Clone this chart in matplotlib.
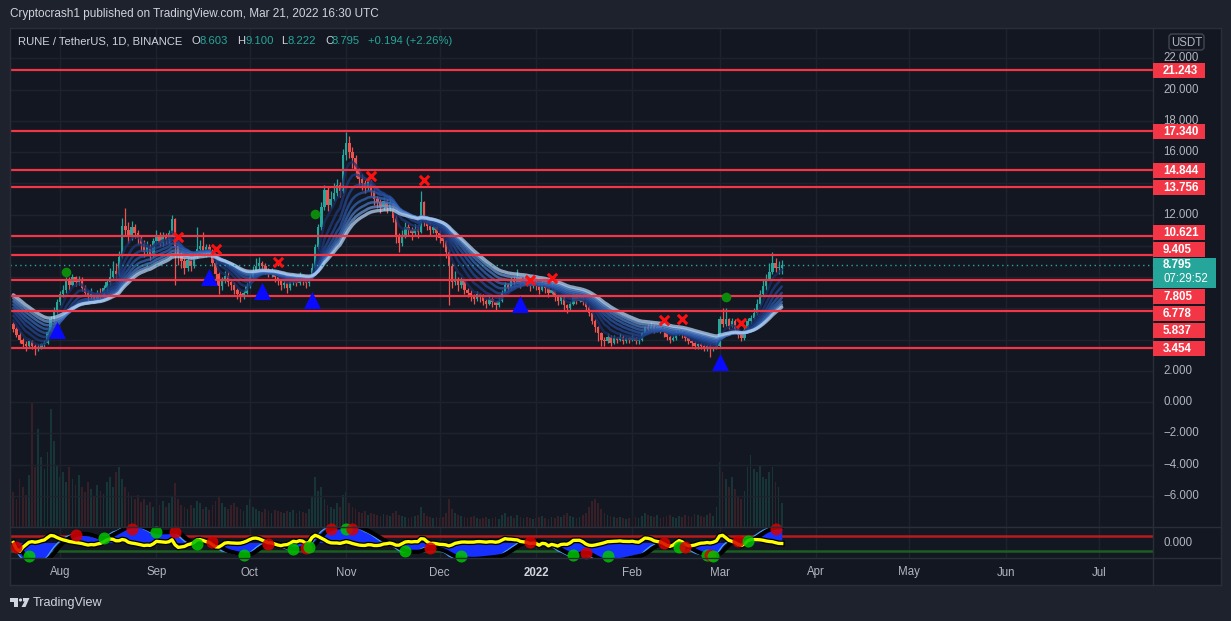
import numpy as np
import pandas as pd
import matplotlib
matplotlib.use("Agg")
import matplotlib.pyplot as plt
import matplotlib.dates as mdates
from matplotlib import transforms
from matplotlib.patches import Rectangle, FancyBboxPatch, Polygon, Circle
from matplotlib.lines import Line2D
from matplotlib.transforms import blended_transform_factory as blend

# ---------------- data ----------------
start_date = "2021-07-17"
first_open = 5.0

close = [
    4.7, 4.3, 4.0, 3.7, 3.6, 3.9, 3.6, 3.5, 3.5, 3.7, 3.8,
    4.5, 5.3, 5.9, 6.4, 6.9, 7.2, 7.8, 7.5, 8.0, 7.7, 7.9,
    7.3, 7.0, 6.7, 6.9, 6.6, 7.0, 6.8, 7.3, 7.7, 8.0, 8.4,
    8.2, 9.3, 11.3, 11.0, 10.6, 11.2, 10.8, 10.5, 10.1, 9.6, 9.9,
    9.4, 10.3, 10.7, 10.2, 10.6, 10.4, 10.8, 11.7, 10.0, 9.4, 9.0,
    8.6, 9.1, 8.7, 9.3, 9.8, 10.0, 9.6, 9.9, 9.7, 8.9, 8.2,
    7.4, 7.8, 8.1, 7.7, 7.5, 7.2, 6.9, 6.7, 7.0, 7.4, 8.0,
    8.4, 8.7, 8.9, 8.7, 8.4, 8.2, 8.3, 8.0, 7.8, 7.5, 7.6,
    7.3, 7.7, 7.9, 7.6, 8.0, 7.8, 7.6, 7.9, 8.6, 9.9, 11.2,
    12.5, 13.6, 12.6, 13.0, 13.4, 13.9, 13.5, 15.8, 16.6, 16.0, 15.6,
    14.8, 14.3, 14.0, 13.8, 14.1, 13.5, 13.0, 12.8, 12.5, 12.9, 12.4,
    12.7, 11.8, 10.6, 10.2, 10.7, 11.2, 11.0, 10.8, 11.1, 10.9, 12.8,
    11.6, 11.3, 11.0, 11.2, 10.8, 10.5, 10.3, 9.6, 8.7, 7.7, 7.9,
    7.5, 7.8, 7.2, 7.0, 6.8, 6.6, 6.9, 6.7, 6.5, 6.3, 6.6,
    6.4, 6.2, 6.5, 7.0, 7.5, 7.3, 7.8, 7.7, 8.0, 7.6, 7.9,
    7.7, 7.4, 7.7, 7.5, 7.2, 7.6, 7.3, 7.0, 7.2, 6.8, 6.5,
    6.7, 6.2, 6.0, 6.3, 6.8, 6.5, 6.7, 6.4, 6.1, 5.7, 5.2,
    4.8, 4.4, 4.0, 3.9, 4.2, 3.8, 4.1, 4.0, 4.2, 3.9, 4.1,
    4.0, 4.1, 3.9, 4.0, 4.4, 4.8, 4.7, 4.9, 4.6, 4.8, 4.7,
    4.5, 4.2, 4.0, 4.1, 4.4, 4.5, 4.3, 4.1, 3.9, 3.8, 3.6,
    3.7, 3.6, 3.5, 3.6, 3.4, 3.5, 3.6, 5.3, 5.0, 5.3, 4.9,
    5.2, 4.7, 4.3, 4.1, 4.6, 5.2, 5.4, 5.7, 6.3, 6.9, 7.4,
    7.9, 8.3, 8.9, 8.6, 8.603, 8.795,
]

high = [
    5.1, 4.8, 4.5, 4.1, 3.9, 4.0, 4.0, 3.7, 3.7, 3.8, 4.0,
    4.6, 5.5, 6.1, 6.6, 7.1, 7.5, 8.0, 8.0, 8.2, 8.1, 8.1,
    8.0, 7.5, 7.2, 7.3, 7.0, 7.2, 7.3, 7.5, 7.9, 8.6, 9.0,
    8.9, 9.7, 11.8, 12.4, 11.5, 11.6, 11.4, 11.0, 10.7, 10.4, 10.3,
    10.1, 10.5, 11.0, 10.9, 10.9, 10.8, 11.0, 12.0, 11.8, 10.3, 9.6,
    9.2, 9.3, 9.3, 9.6, 11.2, 10.4, 10.9, 10.1, 10.1, 9.8, 9.1,
    8.3, 8.0, 8.4, 8.3, 7.9, 7.7, 7.3, 7.1, 7.2, 7.6, 8.2,
    8.7, 9.2, 9.3, 9.0, 8.9, 8.6, 8.6, 8.4, 8.2, 7.9, 7.8,
    7.7, 7.9, 8.1, 8.0, 8.3, 8.1, 7.9, 8.0, 8.9, 10.1, 11.4,
    12.8, 13.9, 13.8, 13.5, 14.0, 14.3, 14.1, 16.2, 17.3, 17.0, 16.3,
    15.8, 15.0, 14.6, 14.2, 14.4, 14.2, 13.7, 13.2, 13.0, 13.1, 13.0,
    13.2, 12.8, 12.0, 10.8, 11.0, 11.5, 11.4, 11.2, 11.4, 11.3, 13.5,
    12.9, 11.8, 11.5, 11.4, 11.3, 11.0, 10.7, 10.4, 9.8, 8.9, 8.4,
    8.0, 8.0, 7.9, 7.3, 7.2, 6.9, 7.1, 7.0, 6.9, 6.6, 6.8,
    6.7, 6.5, 6.7, 7.2, 7.7, 7.6, 8.0, 8.1, 8.5, 8.1, 8.1,
    8.0, 7.9, 7.9, 7.8, 7.6, 7.9, 7.7, 7.4, 7.6, 7.3, 6.9,
    6.9, 6.8, 6.3, 6.5, 7.0, 6.9, 6.9, 6.8, 6.5, 6.2, 5.8,
    5.3, 4.9, 4.5, 4.2, 4.4, 4.3, 4.3, 4.2, 4.4, 4.3, 4.2,
    4.2, 4.3, 4.2, 4.1, 4.5, 4.9, 5.0, 5.1, 5.0, 4.9, 4.9,
    4.8, 4.6, 4.3, 4.3, 4.6, 4.7, 4.6, 4.4, 4.2, 4.0, 3.9,
    3.8, 3.8, 3.7, 3.7, 3.7, 3.6, 3.8, 5.5, 6.0, 6.0, 5.4,
    5.4, 5.3, 4.8, 4.4, 4.8, 5.4, 5.6, 6.0, 6.6, 7.2, 7.9,
    8.2, 8.9, 9.6, 9.2, 9.0, 9.1,
]

low = [
    4.5, 4.2, 3.8, 3.5, 3.3, 3.5, 3.4, 3.0, 3.3, 3.4, 3.5,
    3.7, 4.4, 5.1, 5.6, 6.2, 6.7, 7.0, 7.2, 7.4, 7.4, 7.5,
    7.1, 6.8, 6.5, 6.6, 6.4, 6.5, 6.6, 6.7, 7.1, 7.5, 7.9,
    7.9, 8.1, 9.2, 10.7, 10.2, 10.4, 10.5, 10.1, 9.7, 9.3, 9.4,
    9.1, 9.3, 10.1, 10.0, 10.0, 10.1, 10.2, 10.7, 7.5, 8.8, 8.6,
    8.2, 8.4, 8.4, 8.6, 9.2, 9.6, 9.4, 9.3, 9.4, 8.7, 7.9,
    6.9, 7.2, 7.6, 7.4, 7.2, 6.9, 6.6, 6.4, 6.6, 6.9, 7.3,
    7.9, 8.3, 8.5, 8.4, 8.2, 8.0, 8.0, 7.7, 7.5, 7.2, 7.3,
    7.0, 7.2, 7.5, 7.4, 7.5, 7.5, 7.3, 7.4, 7.8, 8.5, 9.8,
    11.0, 12.3, 12.2, 12.4, 12.9, 13.2, 13.1, 13.4, 15.5, 15.6, 15.0,
    14.4, 13.9, 13.6, 13.4, 13.6, 13.2, 12.6, 12.4, 12.1, 12.3, 12.1,
    12.2, 11.5, 10.2, 9.6, 10.0, 10.5, 10.6, 10.4, 10.6, 10.5, 10.8,
    11.3, 11.0, 10.6, 10.8, 10.4, 10.2, 9.9, 9.2, 6.2, 7.3, 7.5,
    7.1, 7.3, 6.9, 6.7, 6.5, 6.3, 6.5, 6.4, 6.2, 6.0, 6.2,
    6.1, 5.9, 6.1, 6.4, 6.9, 7.0, 7.2, 7.4, 7.6, 7.3, 7.5,
    7.4, 7.1, 7.3, 7.2, 6.9, 7.1, 7.0, 6.7, 6.9, 6.5, 6.2,
    6.3, 5.9, 5.7, 5.9, 6.2, 6.3, 6.4, 6.2, 5.9, 5.5, 5.0,
    4.5, 3.9, 3.6, 3.6, 3.8, 3.6, 3.7, 3.8, 3.9, 3.7, 3.8,
    3.8, 3.9, 3.7, 3.7, 3.9, 4.3, 4.5, 4.6, 4.4, 4.5, 4.4,
    4.2, 4.0, 3.8, 3.9, 4.0, 4.3, 4.1, 3.9, 3.7, 3.6, 3.4,
    3.4, 3.4, 3.3, 3.3, 2.9, 3.3, 3.4, 3.5, 4.8, 4.9, 4.7,
    4.8, 4.5, 4.1, 3.9, 4.0, 4.5, 5.0, 5.3, 5.6, 6.2, 6.8,
    7.2, 7.8, 8.2, 8.3, 8.2, 8.222,
]

volume = [
    35, 28, 48, 40, 32, 52, 124, 60, 97, 70, 58,
    75, 117, 85, 62, 50, 55, 45, 60, 48, 42, 52,
    40, 35, 45, 38, 30, 42, 36, 33, 45, 50, 40,
    55, 60, 48, 40, 35, 30, 28, 32, 25, 28, 22,
    25, 20, 24, 22, 26, 20, 24, 30, 44, 28, 22,
    20, 18, 22, 19, 26, 24, 18, 20, 17, 22, 26,
    30, 24, 20, 18, 22, 24, 20, 18, 16, 22, 28,
    20, 18, 16, 15, 18, 16, 14, 17, 16, 15, 14,
    16, 15, 17, 14, 16, 15, 14, 18, 30, 50, 36,
    40, 28, 22, 20, 18, 24, 20, 32, 35, 24, 20,
    18, 15, 14, 16, 12, 14, 13, 12, 11, 13, 12,
    11, 14, 16, 12, 11, 10, 9, 10, 11, 12, 20,
    14, 11, 10, 9, 10, 9, 10, 14, 28, 18, 14,
    12, 11, 10, 9, 10, 11, 9, 8, 9, 10, 8,
    9, 10, 8, 12, 14, 10, 11, 9, 12, 10, 9,
    10, 9, 8, 9, 10, 11, 9, 8, 10, 9, 11,
    10, 12, 14, 11, 10, 9, 10, 12, 14, 20, 26,
    28, 24, 18, 14, 12, 11, 10, 9, 10, 9, 8,
    9, 8, 10, 9, 11, 14, 12, 11, 10, 12, 9,
    10, 11, 12, 10, 9, 11, 10, 12, 11, 10, 13,
    12, 11, 10, 12, 14, 11, 20, 65, 55, 48, 40,
    50, 38, 30, 28, 36, 60, 72, 58, 55, 62, 50,
    48, 55, 60, 45, 40, 24,
]

levels = [21.243, 17.340, 14.844, 13.756, 10.621, 9.405, 7.805, 6.778, 5.837, 3.454]
last_price = 8.795
countdown = "07:29:52"
change_text = "+0.194 (+2.26%)"

ribbon_spans = [5, 9, 13, 17, 21, 25, 29, 33]
ribbon_seed = [5.5, 5.75, 6.0, 6.2, 6.4, 6.6, 6.8, 7.0]

buy_days = [14, 63, 80, 96, 163, 227]
buy_prices = [4.63, 8.03, 7.13, 6.55, 6.29, 2.58]
sell_days = [53, 65, 85, 115, 132, 166, 173, 209, 215, 234]
sell_prices = [10.59, 9.82, 8.96, 14.44, 14.24, 7.83, 7.96, 5.27, 5.33, 5.08]
dot_days = [17, 97, 229]
dot_prices = [8.35, 12.06, 6.74]

price_ticks = [-6, -4, -2, 0, 2, 4, 6, 8, 10, 12, 14, 16, 18, 20, 22]
month_dates = ["2021-08-01", "2021-09-01", "2021-10-01", "2021-11-01", "2021-12-01",
               "2022-01-01", "2022-02-01", "2022-03-01", "2022-04-01", "2022-05-01",
               "2022-06-01", "2022-07-01"]
month_labels = ["Aug", "Sep", "Oct", "Nov", "Dec", "2022", "Feb", "Mar", "Apr", "May", "Jun", "Jul"]

header = "Cryptocrash1 published on TradingView.com, Mar 21, 2022 16:30 UTC"
symbol = "RUNE / TetherUS, 1D, BINANCE"

# ---------------- style ----------------
BG = "#131722"
OUTER = "#1e222d"
BORDER = "#2a2e39"
GRID = "#1e222d"
TXT = "#d1d4dc"
AXTXT = "#b2b5be"
UP = "#26a69a"
DN = "#ef5350"
LVL = "#f23645"
plt.rcParams["font.family"] = ["Liberation Sans", "DejaVu Sans"]

W, H = 1231, 621
fig = plt.figure(figsize=(W / 100, H / 100), dpi=100)
fig.patch.set_facecolor(OUTER)
PX = transforms.Affine2D().scale(1, -1).translate(0, H)

def rect(x0, y0, x1, y1):
    return [x0 / W, 1 - y1 / H, (x1 - x0) / W, (y1 - y0) / H]

fig.add_artist(Rectangle((10, 28), 1211, 557, transform=PX, facecolor=BG,
                         edgecolor="none", zorder=0))

L0, T0, R0, B0 = 10, 28, 1153, 527
axv = fig.add_axes(rect(L0, T0, R0, B0))
ax = fig.add_axes(rect(L0, T0, R0, B0), sharex=axv)
axo = fig.add_axes(rect(L0, B0, R0, 558), sharex=axv)
for a in (axv, ax, axo):
    a.set_facecolor("none")
    for s in a.spines.values():
        s.set_visible(False)
    a.tick_params(left=False, bottom=False, labelleft=False, labelbottom=False)
axv.set_zorder(1)
ax.set_zorder(2)
axo.set_zorder(2)

c = np.array(close, float)
h = np.array(high, float)
l = np.array(low, float)
v = np.array(volume, float)
o = np.concatenate([[first_open], c[:-1]])
h = np.maximum(h, np.maximum(o, c))
l = np.minimum(l, np.minimum(o, c))
dates = pd.date_range(start_date, periods=len(c), freq="D")
xd = mdates.date2num(dates)

ppd = 3.111
x_left = xd[0] - 1.07
x_right = xd[0] + 15 + (R0 - 60) / ppd
ax.set_xlim(x_left, x_right)
ax.set_ylim(22 - (B0 - 58.3) / 15.63, 22 + (58.3 - T0) / 15.63)
axv.set_ylim(0, v.max() * 4.0)

# grid
mx = mdates.date2num(pd.to_datetime(month_dates))
for m in mx:
    ax.axvline(m, color=GRID, lw=1, zorder=0)
    axo.axvline(m, color=GRID, lw=1, zorder=0)
for t in range(-8, 24, 2):
    ax.axhline(t, color=GRID, lw=1, zorder=0)

# volume
upmask = c >= o
axv.bar(xd, v, width=0.55, color=np.where(upmask, "#1f6f5f", "#7a2e33"), alpha=0.35, lw=0)

# candles
col = np.where(upmask, UP, DN)
ax.vlines(xd, l, h, colors=col, lw=0.9, zorder=2)
ax.bar(xd, np.maximum(np.abs(c - o), 0.04), bottom=np.minimum(o, c), width=0.8,
       color=col, lw=0, zorder=2.1)

# EMA ribbon
ribbon_colors = ["#182f6b", "#1d3a80", "#234795", "#2a55a6", "#3464b5", "#4677c2",
                 "#6a95d2", "#b5d3f5"]
ribbon_lw = [1.8, 1.8, 1.8, 1.8, 1.8, 1.8, 2.0, 2.4]
for span, seed, colr, lw in zip(ribbon_spans, ribbon_seed, ribbon_colors, ribbon_lw):
    alpha = 2.0 / (span + 1)
    e = np.empty(len(c))
    prev = seed
    for i, val in enumerate(c):
        prev = prev + alpha * (val - prev)
        e[i] = prev
    ax.plot(xd, e, color=colr, lw=lw, alpha=0.75, zorder=3, solid_capstyle="round")

# levels + last price line
for lv in levels:
    ax.axhline(lv, color=LVL, lw=1.6, zorder=4)
ax.axhline(last_price, color=UP, lw=1.0, ls=(0, (1, 2.5)), zorder=4)

# signals
ax.scatter(xd[buy_days], buy_prices, marker="^", s=150, color="#0a0aff", zorder=6, lw=0)
ax.scatter(xd[sell_days], sell_prices, marker="x", s=45, color="#ff1010", zorder=6, linewidths=2.2)
ax.scatter(xd[dot_days], dot_prices, marker="o", s=48, color="#0b8a0b", zorder=6, lw=0)

# ---------------- oscillator pane ----------------
def wavetrend(n1, n2, n3):
    ap = pd.Series((h + l + c) / 3.0)
    esa = ap.ewm(span=n1, adjust=False).mean()
    dd = (ap - esa).abs().ewm(span=n1, adjust=False).mean()
    ci = ((ap - esa) / (0.015 * dd.replace(0, np.nan))).fillna(0)
    w1 = ci.ewm(span=n2, adjust=False).mean()
    w2 = w1.rolling(n3, min_periods=1).mean()
    return w1.to_numpy(), w2.to_numpy()

wt1, wt2 = wavetrend(10, 21, 4)
fw1, fw2 = wavetrend(9, 12, 3)
Lm = np.abs(wt1[10:]).max() * 0.8
axo.set_ylim(-Lm, Lm)
axo.axhline(0.45 * Lm, color="#b71c1c", lw=1.8, zorder=1)
axo.axhline(-0.52 * Lm, color="#1b5e20", lw=1.8, zorder=1)
axo.fill_between(xd, 0, wt1, color="#1530ff", lw=0, zorder=2)
axo.plot(xd, wt1, color="#4a9cf0", lw=1.0, zorder=2.2)
axo.plot(xd, wt2, color="#000000", lw=3.0, zorder=2.5)
diff = fw1 - fw2
axo.plot(xd, diff, color="#000000", lw=4.2, zorder=3)
axo.plot(xd, diff, color="#ffff00", lw=2.4, zorder=3.1)
sgn = np.sign(diff)
cross = np.where((sgn[1:] != sgn[:-1]) & (sgn[1:] != 0))[0] + 1
for i in cross:
    colr = "#d80000" if diff[i] < 0 else "#00c400"
    yv = float(np.clip(wt2[i], -0.85 * Lm, 0.85 * Lm))
    axo.scatter(xd[i], yv, s=75, color=colr, alpha=0.85, lw=0, zorder=4, clip_on=False)

# ---------------- frame lines ----------------
def hline(y, x0, x1, colr=BORDER, lw=1):
    fig.add_artist(Line2D([x0, x1], [y, y], transform=PX, color=colr, lw=lw, zorder=10))

def vline(x, y0, y1, colr=BORDER, lw=1):
    fig.add_artist(Line2D([x, x], [y0, y1], transform=PX, color=colr, lw=lw, zorder=10))

hline(28, 10, 1221)
hline(527, 10, 1221)
hline(558, 10, 1221)
hline(585, 10, 1221)
vline(10, 28, 585)
vline(1153, 28, 585)
vline(1221, 28, 585)

# ---------------- price axis ----------------
def val_to_px(val):
    return H - ax.transData.transform((xd[0], val))[1]

FS = 8.3
cur_px = val_to_px(last_price)
box_top, box_bot = cur_px - 7, cur_px + 23
pos = {}
limit = box_top - 1 - 7.5
for lv in sorted([x for x in levels if x > last_price]):
    p = min(val_to_px(lv), limit)
    pos[lv] = p
    limit = p - 17
limit = box_bot + 1 + 7.5
for lv in sorted([x for x in levels if x < last_price], reverse=True):
    p = max(val_to_px(lv), limit)
    pos[lv] = p
    limit = p + 17

for t in price_ticks:
    ty = val_to_px(t)
    if any(abs(ty - p) < 9 for p in pos.values()) or (box_top - 6 < ty < box_bot + 6):
        continue
    lab = f"{t:.3f}".replace("-", "\u2212")
    fig.text(1163, ty, lab, transform=PX, color=AXTXT, fontsize=FS, va="center", ha="left", zorder=11)

fig.text(1163, 542.5, "0.000", transform=PX, color=AXTXT, fontsize=FS, va="center", ha="left", zorder=11)

for lv in levels:
    p = pos[lv]
    fig.add_artist(Rectangle((1153, p - 7.5), 52, 15, transform=PX, facecolor=LVL,
                             edgecolor="none", zorder=12))
    fig.text(1163, p + 0.5, f"{lv:.3f}", transform=PX, color="white", fontsize=FS,
             fontweight="bold", va="center", ha="left", zorder=13)

fig.add_artist(Rectangle((1153, box_top), 63, 30, transform=PX, facecolor=UP,
                         edgecolor="none", zorder=12))
fig.text(1163, cur_px + 0.5, f"{last_price:.3f}", transform=PX, color="white", fontsize=FS,
         fontweight="bold", va="center", ha="left", zorder=13)
fig.text(1163, cur_px + 14, countdown, transform=PX, color="white", fontsize=FS,
         va="center", ha="left", zorder=13)

fig.add_artist(FancyBboxPatch((1169, 34), 35, 16, boxstyle="round,pad=0,rounding_size=3",
                              transform=PX, facecolor=BG, edgecolor="#434651", lw=1, zorder=12))
fig.text(1186.5, 42.5, "USDT", transform=PX, color=AXTXT, fontsize=FS, va="center",
         ha="center", zorder=13)

# ---------------- time axis ----------------
tb = blend(ax.transData, PX)
for m, lab in zip(mx, month_labels):
    fig.text(m, 572.5, lab, transform=tb, color=(TXT if lab == "2022" else AXTXT),
             fontsize=8.3, fontweight=("bold" if lab == "2022" else "normal"),
             ha="center", va="center", zorder=11)

# ---------------- header / legend ----------------
renderer = fig.canvas.get_renderer()

def fit_text(x, y, s, width, **kw):
    t = fig.text(x, y, s, transform=PX, **kw)
    bb = t.get_window_extent(renderer)
    t.set_fontsize(t.get_fontsize() * width / bb.width)
    return t

fit_text(10, 14, header, 371, color=TXT, fontsize=9, va="center", ha="left", zorder=13)
st = fit_text(18, 41.5, symbol, 165, color=TXT, fontsize=9, va="center", ha="left", zorder=13)
lfs = st.get_fontsize()
legend_pieces = [
    (192, "O", TXT), (200, f"{o[-1]:.3f}", UP),
    (237, "H", TXT), (245, f"{h[-1]:.3f}", UP),
    (281, "L", TXT), (287, f"{l[-1]:.3f}", UP),
    (325, "C", TXT), (332, f"{c[-1]:.3f}", UP),
    (368, change_text, UP),
]
for x, s, colr in legend_pieces:
    fig.text(x, 41.5, s, transform=PX, color=colr, fontsize=lfs, va="center", ha="left", zorder=13)

# ---------------- footer ----------------
fig.add_artist(Polygon([(10, 598), (18, 598), (18, 607), (14, 607), (14, 601.5), (10, 601.5)],
                       closed=True, transform=PX, facecolor=TXT, edgecolor="none", zorder=13))
fig.add_artist(Circle((20.5, 600), 1.6, transform=PX, facecolor=TXT, edgecolor="none", zorder=13))
fig.add_artist(Polygon([(23, 598), (29.5, 598), (25.5, 607), (21.5, 607), (24.5, 601.5), (23, 601.5)],
                       closed=True, transform=PX, facecolor=TXT, edgecolor="none", zorder=13))
fit_text(33, 603, "TradingView", 70, color=TXT, fontsize=10, va="center", ha="left", zorder=13)

fig.savefig("out.png", dpi=100, facecolor=OUTER)
